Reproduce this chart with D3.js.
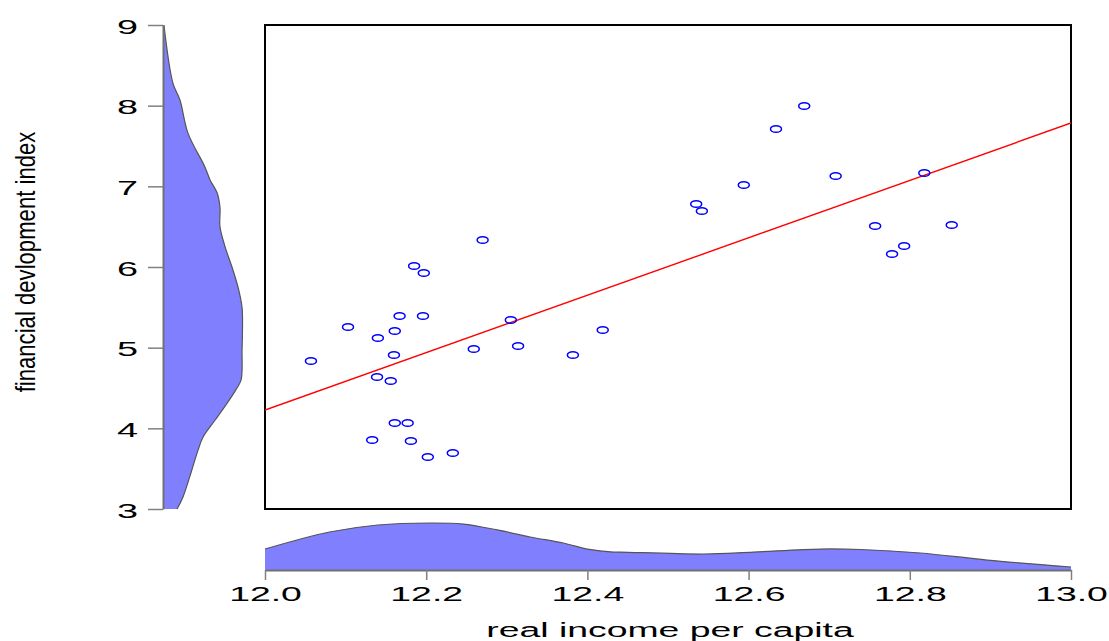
<!DOCTYPE html>
<html><head><meta charset="utf-8">
<script src="https://cdn.jsdelivr.net/npm/d3@7"></script>
<style>html,body{margin:0;padding:0;background:#fff;}svg{display:block;}</style>
</head><body>
<svg id="c" width="1109" height="641"></svg>
<script>
// ---- data ----
const incomeValues = [12.057,12.103,12.140,12.161,12.167,12.185,12.197,12.196,12.160,12.139,12.156,12.161,12.177,12.133,12.181,12.202,12.233,12.259,12.270,12.305,12.314,12.382,12.419,12.535,12.542,12.594,12.634,12.669,12.708,12.757,12.778,12.793,12.818,12.852];
const findevValues = [4.835,5.256,5.120,5.207,5.393,6.012,5.926,5.393,4.909,4.636,4.587,4.066,4.066,3.855,3.843,3.645,3.694,4.983,6.335,5.343,5.021,4.909,5.219,6.781,6.694,7.016,7.711,7.996,7.128,6.508,6.161,6.260,7.165,6.520];
const fitX = [12.0, 13.0];
const fitY = [4.227, 7.785];
const xTicks = [12.0,12.2,12.4,12.6,12.8,13.0];
const xTickLabels = ["12.0","12.2","12.4","12.6","12.8","13.0"];
const yTicks = [3,4,5,6,7,8,9];
const yTickLabels = ["3","4","5","6","7","8","9"];
// marginal density of financial development index
const yDensAt = [9.0,8.28,8.07,7.66,7.24,7.08,6.92,6.74,6.50,6.25,6.00,5.75,5.50,5.31,4.97,4.60,4.48,4.31,4.10,3.89,3.73,3.45,3.15,3.0];
const yDens   = [0.006,0.062,0.106,0.156,0.262,0.294,0.338,0.356,0.356,0.388,0.431,0.469,0.494,0.497,0.494,0.488,0.456,0.400,0.325,0.250,0.219,0.175,0.125,0.088];
// marginal density of real income per capita
const xDensAt = [12.0,12.08,12.14,12.205,12.246,12.288,12.329,12.370,12.400,12.432,12.441,12.544,12.606,12.689,12.739,12.813,12.896,13.0];
const xDens   = [0.223,0.404,0.479,0.500,0.489,0.426,0.351,0.287,0.223,0.191,0.191,0.170,0.191,0.223,0.218,0.181,0.106,0.032];
const xTitle = "real income per capita";
const yTitle = "financial devlopment index";

// ---- layout ----
const svg = d3.select("#c");
const L = 265, R = 1071, T = 25, B = 509;
const x = d3.scaleLinear().domain([12,13]).range([L,R]);
const y = d3.scaleLinear().domain([3,9]).range([B,T]);
const leftBase = 163, leftMax = 243;
const botBase = 570, botMax = 523;
const dxs = d3.scaleLinear().domain([0,0.5]).range([leftBase,leftMax]);
const dys = d3.scaleLinear().domain([0,0.5]).range([botBase,botMax]);
const font = "'Liberation Sans', Arial, sans-serif";
const smooth = d3.curveCatmullRom.alpha(0.5);

// left density
const ld = yDensAt.map((v,i)=>({v, d:yDens[i]}));
svg.append("path").datum(ld)
  .attr("d", d3.area().curve(smooth).y(d=>y(d.v)).x0(leftBase).x1(d=>dxs(d.d)))
  .attr("fill","#8080ff");
svg.append("path").datum(ld)
  .attr("d", d3.line().curve(smooth).y(d=>y(d.v)).x(d=>dxs(d.d)))
  .attr("fill","none").attr("stroke","#555").attr("stroke-width",1.2);

// left axis
const yAxis = d3.axisLeft(y).tickValues(yTicks).tickFormat((d,i)=>yTickLabels[i]).tickSize(15).tickSizeOuter(0);
const ga = svg.append("g").attr("transform",`translate(${leftBase},0)`).call(yAxis);
ga.select(".domain").attr("stroke","#707070").attr("stroke-width",2);
ga.selectAll(".tick line").attr("stroke","#808080").attr("stroke-width",1.5);
ga.selectAll(".tick text").remove();
ga.selectAll(".tick").append("text")
  .attr("transform","translate(-25,8) scale(1.8,1)")
  .attr("text-anchor","end").attr("fill","#000")
  .style("font-family",font).style("font-size","21px")
  .text((d,i)=>yTickLabels[i]);

// bottom density
const bd = xDensAt.map((v,i)=>({v, d:xDens[i]}));
svg.append("path").datum(bd)
  .attr("d", d3.area().curve(smooth).x(d=>x(d.v)).y0(botBase).y1(d=>dys(d.d)))
  .attr("fill","#8080ff");
svg.append("path").datum(bd)
  .attr("d", d3.line().curve(smooth).x(d=>x(d.v)).y(d=>dys(d.d)))
  .attr("fill","none").attr("stroke","#555").attr("stroke-width",1.2);

// bottom axis
const xAxis = d3.axisBottom(x).tickValues(xTicks).tickFormat((d,i)=>xTickLabels[i]).tickSize(10).tickSizeOuter(0);
const gb = svg.append("g").attr("transform",`translate(0,${botBase})`).call(xAxis);
gb.select(".domain").attr("stroke","#707070").attr("stroke-width",2);
gb.selectAll(".tick line").attr("stroke","#808080").attr("stroke-width",1.5);
gb.selectAll(".tick text").remove();
gb.selectAll(".tick").append("text")
  .attr("transform","translate(0,31) scale(1.78,1)")
  .attr("text-anchor","middle").attr("fill","#000")
  .style("font-family",font).style("font-size","21px")
  .text((d,i)=>xTickLabels[i]);

// main box
svg.append("rect").attr("x",L).attr("y",T).attr("width",R-L).attr("height",B-T)
  .attr("fill","none").attr("stroke","#000").attr("stroke-width",2);

// clip
svg.append("clipPath").attr("id","clip").append("rect")
  .attr("x",L).attr("y",T).attr("width",R-L).attr("height",B-T);

// fit line
svg.append("path").datum(fitX.map((v,i)=>[v,fitY[i]]))
  .attr("clip-path","url(#clip)")
  .attr("d", d3.line().x(d=>x(d[0])).y(d=>y(d[1])))
  .attr("stroke","#ff0000").attr("stroke-width",1.4).attr("fill","none");

// points
svg.append("g").selectAll("ellipse").data(incomeValues.map((v,i)=>[v,findevValues[i]]))
  .join("ellipse")
  .attr("cx",d=>x(d[0])).attr("cy",d=>y(d[1]))
  .attr("rx",5.5).attr("ry",3.3)
  .attr("fill","none").attr("stroke","#0000ff").attr("stroke-width",1.5);

// titles
svg.append("text")
  .attr("transform",`translate(${(482+858)/2},637) scale(1.78,1)`)
  .attr("text-anchor","middle").attr("fill","#000")
  .style("font-family",font).style("font-size","21px")
  .text(xTitle);
svg.append("text")
  .attr("transform",`translate(35,262) rotate(-90) scale(0.82,1)`)
  .attr("text-anchor","middle").attr("fill","#000")
  .style("font-family",font).style("font-size","27px")
  .text(yTitle);
</script>
</body></html>
